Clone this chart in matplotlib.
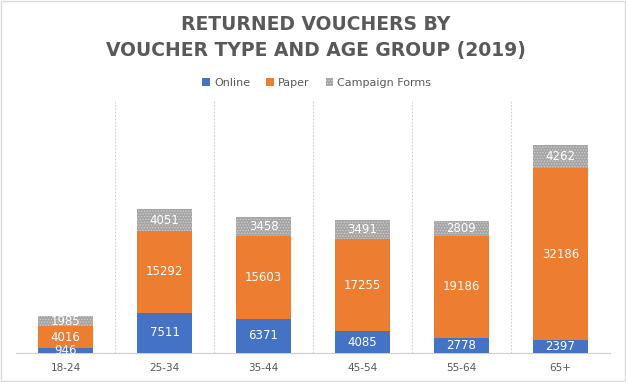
import numpy as np
import matplotlib.pyplot as plt
from matplotlib.patches import Rectangle

# data
age_groups = ['18-24', '25-34', '35-44', '45-54', '55-64', '65+']
online = [946, 7511, 6371, 4085, 2778, 2397]
paper = [4016, 15292, 15603, 17255, 19186, 32186]
campaign = [1985, 4051, 3458, 3491, 2809, 4262]

blue = '#4472c4'
orange = '#ed7d31'
gray = '#a5a5a5'
text_gray = '#595959'

plt.rcParams['hatch.color'] = '#cfcfcf'
plt.rcParams['hatch.linewidth'] = 0.6

fig = plt.figure(figsize=(6.26, 3.82), dpi=100)
ax = fig.add_axes([0.0256, 0.0759, 0.9488, 0.662])

x = np.arange(len(age_groups))
online = np.array(online)
paper = np.array(paper)
campaign = np.array(campaign)
w = 0.56

b1 = ax.bar(x, online, w, color=blue, label='Online', zorder=3)
b2 = ax.bar(x, paper, w, bottom=online, color=orange, label='Paper', zorder=3)
b3 = ax.bar(x, campaign, w, bottom=online + paper, color=gray, hatch='......',
            edgecolor='#cfcfcf', linewidth=0, label='Campaign Forms', zorder=3)

# segment labels
for bars, vals, bottoms in [(b1, online, np.zeros(len(x))),
                            (b2, paper, online),
                            (b3, campaign, online + paper)]:
    for xi, v, b in zip(x, vals, bottoms):
        ax.text(xi, b + v / 2, str(v), ha='center', va='center',
                color='white', fontsize=8.5, zorder=4)

ax.set_xlim(-0.5, len(x) - 0.5)
ax.set_ylim(0, 47300)
ax.set_yticks([])
ax.set_xticks(x)
ax.set_xticklabels(age_groups, fontsize=7.5, color=text_gray)
ax.tick_params(axis='x', length=0, pad=7)

# vertical dotted separators
for xv in np.arange(0.5, len(x), 1.0):
    ax.axvline(xv, color='#d0d0d0', linestyle=(0, (1.5, 1.5)), linewidth=0.8, zorder=1)

for s in ['top', 'left', 'right']:
    ax.spines[s].set_visible(False)
ax.spines['bottom'].set_color('#d0d0d0')
ax.spines['bottom'].set_linewidth(0.9)

fig.text(0.504, 0.935, 'RETURNED VOUCHERS BY', ha='center', va='center',
         fontsize=13.5, fontweight='bold', color=text_gray)
fig.text(0.504, 0.868, 'VOUCHER TYPE AND AGE GROUP (2019)', ha='center', va='center',
         fontsize=13.5, fontweight='bold', color=text_gray)

leg = fig.legend(handles=[b1, b2, b3], loc='center', bbox_to_anchor=(0.506, 0.782),
                 ncol=3, frameon=False, fontsize=8, handlelength=0.7, handleheight=0.7,
                 handletextpad=0.35, columnspacing=1.45)
for t in leg.get_texts():
    t.set_color(text_gray)

# outer border
fig.patches.append(Rectangle((0.002, 0.003), 0.996, 0.994, transform=fig.transFigure,
                             fill=False, edgecolor='#d9d9d9', linewidth=1))

plt.savefig('out.png', dpi=100)
